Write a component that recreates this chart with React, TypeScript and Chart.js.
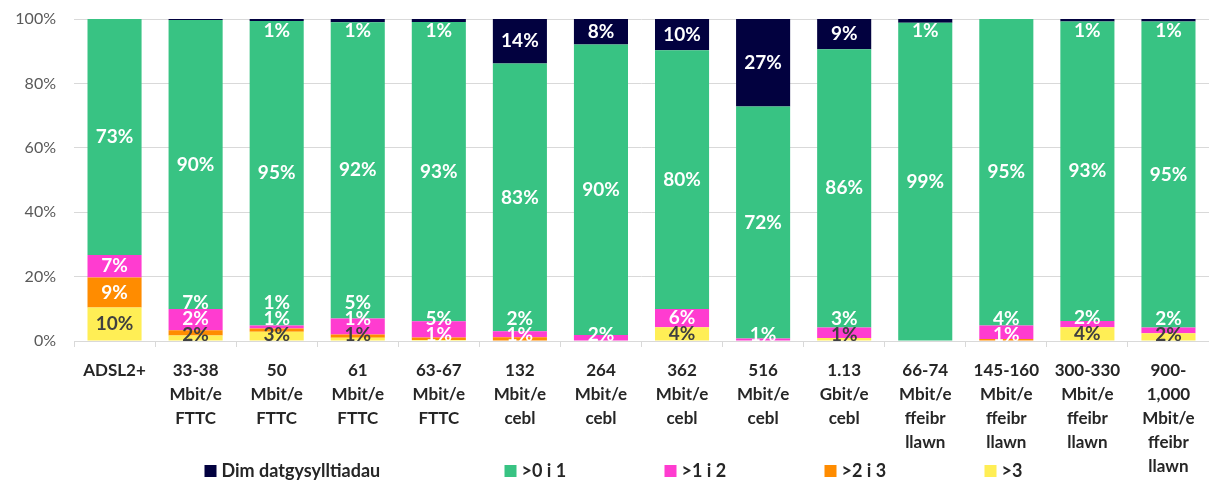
import React, { useEffect, useRef } from "react";
import { Chart, registerables } from "chart.js";

Chart.register(...registerables);

const categories: string[][] = [
  ["ADSL2+"],
  ["33-38", "Mbit/e", "FTTC"],
  ["50", "Mbit/e", "FTTC"],
  ["61", "Mbit/e", "FTTC"],
  ["63-67", "Mbit/e", "FTTC"],
  ["132", "Mbit/e", "cebl"],
  ["264", "Mbit/e", "cebl"],
  ["362", "Mbit/e", "cebl"],
  ["516", "Mbit/e", "cebl"],
  ["1.13", "Gbit/e", "cebl"],
  ["66-74", "Mbit/e", "ffeibr", "llawn"],
  ["145-160", "Mbit/e", "ffeibr", "llawn"],
  ["300-330", "Mbit/e", "ffeibr", "llawn"],
  ["900-", "1,000", "Mbit/e", "ffeibr", "llawn"],
];

// Values in percent, stacked bottom to top
const over3 = [10.4, 1.7, 2.9, 1.0, 0.3, 0, 0, 4.3, 0, 0.9, 0, 0, 4.3, 2.4];
const from2to3 = [9.3, 1.6, 1.0, 1.0, 0.8, 1.2, 0, 0, 0, 0, 0, 0.6, 0, 0];
const from1to2 = [7.0, 6.6, 0.9, 5.0, 5.0, 1.8, 1.9, 5.6, 0.8, 3.3, 0, 4.2, 1.9, 1.8];
const from0to1 = [73.3, 89.8, 94.6, 92.0, 93.0, 83.2, 90.2, 80.4, 72.0, 86.4, 98.8, 95.2, 93.0, 95.0];
const noDisconnections = [0, 0.3, 0.6, 1.0, 0.9, 13.8, 7.9, 9.7, 27.2, 9.4, 1.2, 0, 0.8, 0.8];

const seriesNames = [">3", ">2 i 3", ">1 i 2", ">0 i 1", "Dim datgysylltiadau"];
const seriesValues = [over3, from2to3, from1to2, from0to1, noDisconnections];
const seriesColors = ["#FFEE55", "#FF8C00", "#FF3CD0", "#38C383", "#02013F"];
const labelColors = ["#404040", "#FFFFFF", "#FFFFFF", "#FFFFFF", "#FFFFFF"];

const yTicks = [0, 20, 40, 60, 80, 100];

const FONT = "Lato, 'Open Sans', sans-serif";
const PLOT_TOP = 19;

const fixTop = {
  id: "fixTop",
  afterLayout(chart: any) {
    const y = chart.scales.y;
    y.top = PLOT_TOP;
    y.height = y.bottom - PLOT_TOP;
    y.configure();
    chart.chartArea.top = PLOT_TOP;
    chart.chartArea.height = chart.chartArea.bottom - PLOT_TOP;
  },
};

const segmentLabels = {
  id: "segmentLabels",
  afterDatasetsDraw(chart: any) {
    const ctx = chart.ctx;
    const area = chart.chartArea;
    ctx.save();
    ctx.font = `bold 19px ${FONT}`;
    ctx.textAlign = "center";
    ctx.textBaseline = "middle";
    const n = categories.length;
    for (let i = 0; i < n; i++) {
      let prev = Infinity;
      for (let d = 0; d < seriesValues.length; d++) {
        const v = seriesValues[d][i];
        const r = Math.round(v);
        if (r < 1) continue;
        const el = chart.getDatasetMeta(d).data[i];
        const c = (el.y + el.base) / 2;
        let y = Math.min(c, area.bottom - 6, prev - 16);
        y = Math.max(y, area.top + 12);
        ctx.fillStyle = labelColors[d];
        ctx.fillText(r + "%", el.x, y);
        prev = y;
      }
    }
    ctx.restore();
  },
};

const customLegend = {
  id: "customLegend",
  afterDraw(chart: any) {
    const ctx = chart.ctx;
    ctx.save();
    ctx.font = `bold 18px ${FONT}`;
    ctx.textBaseline = "middle";
    ctx.textAlign = "left";
    const order = [4, 3, 2, 1, 0];
    const slots = [300, 160, 160, 160, 160];
    let x = chart.width / 2 - 400;
    const y = 471;
    order.forEach((d, k) => {
      ctx.fillStyle = seriesColors[d];
      ctx.fillRect(x, y - 6, 12, 12);
      ctx.fillStyle = "#262626";
      ctx.fillText(seriesNames[d], x + 17, y);
      x += slots[k];
    });
    ctx.restore();
  },
};

export default function App() {
  const ref = useRef<HTMLCanvasElement>(null);
  useEffect(() => {
    if (!ref.current) return;
    const chart = new Chart(ref.current, {
      type: "bar",
      data: {
        labels: categories as any,
        datasets: seriesNames.map((name, d) => ({
          label: name,
          data: seriesValues[d],
          backgroundColor: seriesColors[d],
          borderWidth: 0,
          barPercentage: 0.667,
          categoryPercentage: 1,
        })),
      },
      options: {
        animation: false,
        responsive: true,
        maintainAspectRatio: false,
        layout: { padding: { top: 0, left: 0, right: 0, bottom: 0 } },
        plugins: {
          legend: { display: false },
          tooltip: { enabled: false },
        },
        scales: {
          x: {
            stacked: true,
            grid: {
              drawOnChartArea: false,
              drawTicks: true,
              tickLength: 6,
              color: "#D9D9D9",
              offset: true,
            },
            border: { display: true, color: "#D9D9D9" },
            ticks: {
              autoSkip: false,
              maxRotation: 0,
              minRotation: 0,
              padding: 11,
              color: "#262626",
              font: { family: FONT, size: 17, weight: "bold", lineHeight: 1.42 },
            },
            afterFit(scale: any) {
              scale.height = 145;
            },
          },
          y: {
            stacked: true,
            min: 0,
            max: 100,
            afterBuildTicks(scale: any) {
              scale.ticks = yTicks.map((v) => ({ value: v }));
            },
            grid: { color: "#D9D9D9", drawTicks: false },
            border: { display: false },
            ticks: {
              padding: 18,
              color: "#595959",
              font: { family: FONT, size: 16 },
              callback: (v: any) => v + "%",
            },
            afterFit(scale: any) {
              scale.width = 74;
            },
          },
        },
      },
      plugins: [fixTop, segmentLabels, customLegend],
    });
    return () => chart.destroy();
  }, []);
  return (
    <div
      style={{
        position: "fixed",
        left: 0,
        top: 0,
        width: 1209,
        height: 486,
        background: "#FFFFFF",
      }}
    >
      <canvas ref={ref} />
    </div>
  );
}
